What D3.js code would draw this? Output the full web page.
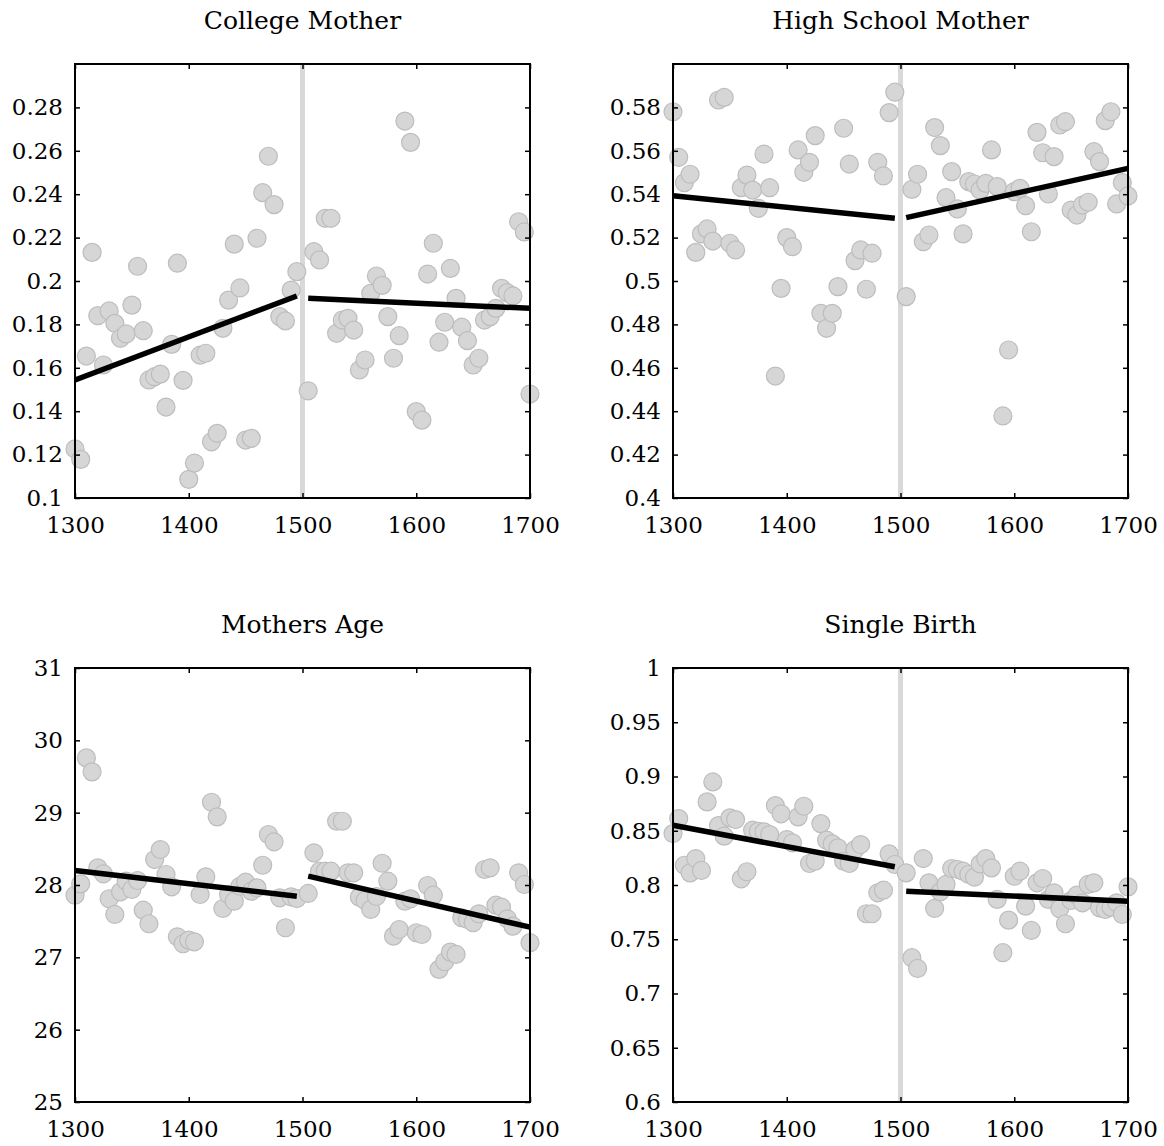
<!DOCTYPE html>
<html>
<head>
<meta charset="utf-8">
<script src="https://cdn.jsdelivr.net/npm/d3@7"></script>
<style>
    body { margin: 0; background: #fff; }
    text { font-family: "DejaVu Serif", serif; }
</style>
</head>
<body>
<svg id="chart" width="1164" height="1146"></svg>
<script>

let years = [1300, 1305, 1310, 1315, 1320, 1325, 1330, 1335, 1340, 1345,
             1350, 1355, 1360, 1365, 1370, 1375, 1380, 1385, 1390, 1395,
             1400, 1405, 1410, 1415, 1420, 1425, 1430, 1435, 1440, 1445,
             1450, 1455, 1460, 1465, 1470, 1475, 1480, 1485, 1490, 1495,
             1505, 1510, 1515, 1520, 1525, 1530, 1535, 1540, 1545, 1550,
             1555, 1560, 1565, 1570, 1575, 1580, 1585, 1590, 1595, 1600,
             1605, 1610, 1615, 1620, 1625, 1630, 1635, 1640, 1645, 1650,
             1655, 1660, 1665, 1670, 1675, 1680, 1685, 1690, 1695, 1700];

let xTicks = [1300, 1400, 1500, 1600, 1700];

let collegeMother = [0.1226, 0.1178, 0.1654, 0.2132, 0.184, 0.1613, 0.1862, 0.1805, 0.1736, 0.1756,
                     0.1889, 0.2068, 0.1771, 0.1544, 0.1559, 0.1571, 0.1419, 0.1708, 0.2082, 0.1542,
                     0.1086, 0.1161, 0.1658, 0.1667, 0.1259, 0.1298, 0.1782, 0.1912, 0.217, 0.1968,
                     0.1267, 0.1275, 0.2197, 0.2407, 0.2575, 0.2352, 0.1836, 0.1816, 0.1958, 0.2043,
                     0.1494, 0.2135, 0.2097, 0.2289, 0.2289, 0.1759, 0.182, 0.1828, 0.1774, 0.159,
                     0.1636, 0.1943, 0.2023, 0.198, 0.1836, 0.1644, 0.1748, 0.2737, 0.2639, 0.1398,
                     0.1359, 0.2032, 0.2174, 0.1718, 0.181, 0.2058, 0.192, 0.1787, 0.1725, 0.1613,
                     0.1644, 0.182, 0.1836, 0.1874, 0.1966, 0.1946, 0.1931, 0.2273, 0.2226, 0.1479];

let highSchoolMother = [0.578, 0.557, 0.5453, 0.5492, 0.5132, 0.5217, 0.524, 0.5184, 0.5834, 0.5846,
                        0.5174, 0.5143, 0.543, 0.5488, 0.5419, 0.5335, 0.5585, 0.543, 0.4562, 0.4966,
                        0.52, 0.5158, 0.5604, 0.5501, 0.5547, 0.567, 0.4851, 0.4782, 0.4851, 0.4974,
                        0.5704, 0.5539, 0.5094, 0.5143, 0.4962, 0.5128, 0.5547, 0.5484, 0.5776, 0.587,
                        0.4928, 0.5422, 0.5492, 0.5181, 0.5212, 0.5707, 0.5624, 0.5384, 0.5504, 0.5332,
                        0.5217, 0.5458, 0.5447, 0.5419, 0.545, 0.5604, 0.5435, 0.4378, 0.4682, 0.5412,
                        0.5427, 0.5347, 0.5227, 0.5685, 0.5591, 0.5401, 0.5573, 0.5719, 0.5734, 0.5327,
                        0.5304, 0.535, 0.5363, 0.5596, 0.555, 0.5739, 0.578, 0.5355, 0.5453, 0.5392];

let mothersAge = [27.859, 28.016, 29.757, 29.564, 28.238, 28.155, 27.81, 27.593, 27.906, 28.053,
                  27.938, 28.062, 27.652, 27.464, 28.352, 28.49, 28.145, 27.975, 27.284, 27.188,
                  27.238, 27.215, 27.869, 28.113, 29.144, 28.942, 27.675, 27.869, 27.776, 27.983,
                  28.039, 27.914, 27.961, 28.273, 28.698, 28.597, 27.823, 27.409, 27.837, 27.813,
                  27.883, 28.445, 28.191, 28.191, 28.191, 28.881, 28.881, 28.169, 28.169, 27.832,
                  27.786, 27.662, 27.841, 28.301, 28.053, 27.293, 27.385, 27.776, 27.81, 27.34,
                  27.316, 27.993, 27.859, 26.833, 26.939, 27.072, 27.04, 27.547, 27.523, 27.478,
                  27.602, 28.214, 28.238, 27.721, 27.693, 27.533, 27.431, 28.169, 28.007, 27.202];

let singleBirth = [0.8474, 0.8612, 0.8182, 0.8112, 0.8244, 0.8134, 0.8766, 0.895, 0.8548, 0.845,
                   0.8619, 0.8603, 0.8057, 0.8122, 0.8505, 0.8495, 0.849, 0.8465, 0.8732, 0.8656,
                   0.8419, 0.8389, 0.8628, 0.8726, 0.8198, 0.8219, 0.8566, 0.8413, 0.8379, 0.8343,
                   0.8219, 0.8198, 0.8327, 0.8373, 0.7735, 0.7735, 0.7928, 0.7952, 0.8287, 0.8189,
                   0.8112, 0.733, 0.7231, 0.8244, 0.802, 0.7784, 0.7937, 0.8005, 0.8152, 0.8143,
                   0.8127, 0.8097, 0.8072, 0.8195, 0.8244, 0.8158, 0.7867, 0.7376, 0.7676, 0.8081,
                   0.8127, 0.7805, 0.7581, 0.802, 0.806, 0.7867, 0.7928, 0.7781, 0.7643, 0.7857,
                   0.7906, 0.7836, 0.8005, 0.802, 0.779, 0.7774, 0.7796, 0.7836, 0.7728, 0.7983];

// fitted lines, before and after 1500, as [year, value] end points
let collegeFit = [[[1300, 0.1544], [1495, 0.1931]], [[1505, 0.192], [1700, 0.1874]]];
let highSchoolFit = [[[1300, 0.5393], [1495, 0.5289]], [[1505, 0.5292], [1700, 0.5519]]];
let ageFit = [[[1300, 28.2], [1495, 27.845]], [[1505, 28.122], [1700, 27.417]]];
let singleFit = [[[1300, 0.855], [1495, 0.8168]], [[1505, 0.7943], [1700, 0.7851]]];

let collegeTicks = [0.1, 0.12, 0.14, 0.16, 0.18, 0.2, 0.22, 0.24, 0.26, 0.28];
let highSchoolTicks = [0.4, 0.42, 0.44, 0.46, 0.48, 0.5, 0.52, 0.54, 0.56, 0.58];
let ageTicks = [25, 26, 27, 28, 29, 30, 31];
let singleTicks = [0.6, 0.65, 0.7, 0.75, 0.8, 0.85, 0.9, 0.95, 1];

let svg = d3.select("#chart");
let fontFamily = "'DejaVu Serif', serif";

function drawPanel(opt) {

    let width = 455;
    let height = 434;

    let g = svg.append("g")
        .attr("transform", "translate(" + opt.left + "," + opt.top + ")");

    let xScale = d3.scaleLinear().domain([1300, 1700]).range([0, width]);
    let yScale = d3.scaleLinear().domain(opt.domain).range([height, 0]);

    //title
    g.append("text")
        .attr("x", width / 2)
        .attr("y", -35)
        .attr("text-anchor", "middle")
        .attr("font-family", fontFamily)
        .attr("font-size", 25)
        .text(opt.title);

    //cutoff line at 1500
    if (opt.cutoff) {
        g.append("line")
            .attr("x1", xScale(1500)).attr("x2", xScale(1500))
            .attr("y1", 0).attr("y2", height)
            .attr("stroke", "#d9d9d9")
            .attr("stroke-width", 5);
    }

    //points
    g.append("g").selectAll("circle")
        .data(years.map((d, i) => ({year: d, value: opt.values[i]})))
        .enter().append("circle")
        .attr("cx", d => xScale(d.year))
        .attr("cy", d => yScale(d.value))
        .attr("r", 9)
        .attr("fill", "#d6d6d6")
        .attr("stroke", "#bdbdbd")
        .attr("stroke-width", 1.2);

    //fit lines
    let line = d3.line()
        .x(d => xScale(d[0]))
        .y(d => yScale(d[1]));
    g.append("g").selectAll("path")
        .data(opt.fit)
        .enter().append("path")
        .attr("d", line)
        .attr("fill", "none")
        .attr("stroke", "#000")
        .attr("stroke-width", 5.5);

    //axes, ticks pointing inward on all sides
    let fmt = d3.format("~g");
    let yAxis = d3.axisLeft(yScale).tickValues(opt.ticks).tickFormat(fmt).tickSize(-5).tickPadding(12);
    let yAxisR = d3.axisRight(yScale).tickValues(opt.ticks).tickFormat("").tickSize(-5);
    let xAxis = d3.axisBottom(xScale).tickValues(xTicks).tickFormat(d3.format("d")).tickSize(-5).tickPadding(19);
    let xAxisT = d3.axisTop(xScale).tickValues(xTicks).tickFormat("").tickSize(-5);

    let axes = [
        g.append("g").call(yAxis),
        g.append("g").attr("transform", "translate(" + width + ",0)").call(yAxisR),
        g.append("g").attr("transform", "translate(0," + height + ")").call(xAxis),
        g.append("g").call(xAxisT)
    ];
    for (let a of axes) {
        a.attr("font-family", fontFamily).attr("font-size", 23);
        a.select(".domain").remove();
        a.selectAll("line").attr("stroke", "#000").attr("stroke-width", 1.5);
        a.selectAll("text").attr("fill", "#000");
    }

    //frame
    g.append("rect")
        .attr("width", width)
        .attr("height", height)
        .attr("fill", "none")
        .attr("stroke", "#000")
        .attr("stroke-width", 2);
}

drawPanel({title: "College Mother", left: 75, top: 64, domain: [0.1, 0.3],
           values: collegeMother, fit: collegeFit, ticks: collegeTicks, cutoff: true});
drawPanel({title: "High School Mother", left: 673, top: 64, domain: [0.4, 0.6],
           values: highSchoolMother, fit: highSchoolFit, ticks: highSchoolTicks, cutoff: true});
drawPanel({title: "Mothers Age", left: 75, top: 668, domain: [25, 31],
           values: mothersAge, fit: ageFit, ticks: ageTicks, cutoff: false});
drawPanel({title: "Single Birth", left: 673, top: 668, domain: [0.6, 1],
           values: singleBirth, fit: singleFit, ticks: singleTicks, cutoff: true});

</script>
</body>
</html>
